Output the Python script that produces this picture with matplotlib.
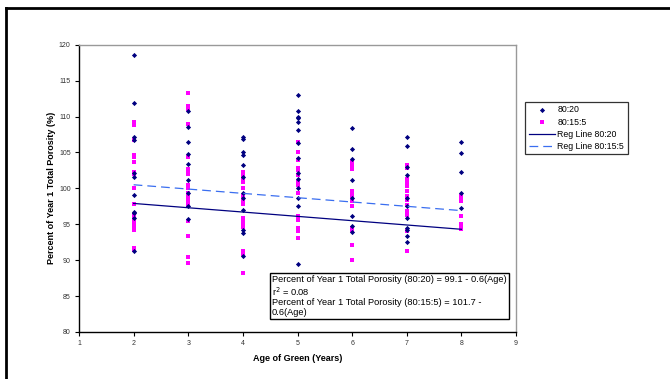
import matplotlib
matplotlib.use("Agg")
import matplotlib.pyplot as plt
from matplotlib.lines import Line2D

# ---- data ----
ages = [2, 3, 4, 5, 6, 7, 8]

vals_8020 = {
    2: [118.6, 111.9, 107.2, 106.8, 102.2, 101.6, 99.1, 96.7, 96.6, 95.9, 91.3],
    3: [110.8, 108.5, 106.5, 104.8, 103.4, 101.2, 99.3, 97.6, 95.7],
    4: [107.1, 106.9, 105.0, 104.7, 103.2, 101.6, 99.3, 98.6, 97.0, 94.2, 93.8, 90.6],
    5: [113.0, 110.7, 109.9, 109.8, 109.2, 108.1, 106.3, 104.2, 102.1, 101.3, 100.0, 98.6, 97.5, 89.5],
    6: [108.4, 105.5, 104.1, 101.1, 98.6, 96.1, 94.7, 93.9],
    7: [107.2, 105.9, 103.0, 101.8, 98.6, 97.5, 95.9, 94.5, 94.2, 93.3, 92.6],
    8: [106.4, 104.9, 102.3, 99.4, 97.2],
}

vals_80155 = {
    2: [109.2, 108.8, 106.8, 104.7, 104.3, 103.7, 102.3, 102.0, 100.0, 97.8, 96.3, 95.9, 95.6, 95.2, 94.9, 94.5, 94.2, 91.7, 91.4],
    3: [113.3, 111.4, 111.0, 108.9, 104.4, 102.7, 102.3, 102.0, 100.5, 100.0, 99.3, 98.9, 98.4, 97.9, 97.5, 95.5, 93.4, 90.4, 89.6],
    4: [102.3, 101.9, 101.3, 100.9, 100.0, 99.0, 98.2, 97.8, 95.9, 95.5, 95.0, 94.6, 91.3, 91.1, 90.8, 88.2],
    5: [106.5, 105.1, 104.0, 102.9, 102.6, 101.9, 100.9, 100.4, 99.4, 96.1, 95.6, 94.5, 94.0, 93.1],
    6: [103.6, 103.3, 103.0, 102.7, 99.7, 99.3, 98.9, 98.2, 97.6, 94.5, 94.2, 92.1, 90.0],
    7: [103.3, 102.8, 101.3, 100.7, 100.5, 100.3, 99.6, 99.0, 98.4, 97.7, 96.8, 96.3, 94.0, 91.3],
    8: [98.9, 98.5, 98.2, 96.2, 95.0, 94.7, 94.3],
}

reg_8020 = (99.1, -0.6)    # intercept, slope
reg_80155 = (101.7, -0.6)

xticks = [1, 2, 3, 4, 5, 6, 7, 8, 9]
yticks = [80, 85, 90, 95, 100, 105, 110, 115, 120]

eq_text = ("Percent of Year 1 Total Porosity (80:20) = 99.1 - 0.6(Age)\n"
           "r$^2$ = 0.08\n"
           "Percent of Year 1 Total Porosity (80:15:5) = 101.7 -\n"
           "0.6(Age)")

# ---- figure ----
W, H = 670, 379
fig = plt.figure(figsize=(W / 100, H / 100), dpi=100)
plt.rcParams['font.family'] = ['Liberation Sans', 'DejaVu Sans']

ax = fig.add_axes([79 / W, 1 - 332 / H, (516 - 79) / W, (332 - 44.7) / H])

x1 = [a for a in ages for _ in vals_8020[a]]
y1 = [v for a in ages for v in vals_8020[a]]
x2 = [a for a in ages for _ in vals_80155[a]]
y2 = [v for a in ages for v in vals_80155[a]]

navy = "#000080"
mag = "#FF00FF"
blue = "#3A6EF0"

ax.scatter(x1, y1, marker="D", s=7, color=navy, zorder=3, label="80:20", linewidths=0)
ax.scatter(x2, y2, marker="s", s=9, color=mag, zorder=2, label="80:15:5", linewidths=0)

xr = [min(ages), max(ages)]
ax.plot(xr, [reg_8020[0] + reg_8020[1] * x for x in xr], color=navy, lw=0.9,
        label="Reg Line 80:20", zorder=4)
ax.plot(xr, [reg_80155[0] + reg_80155[1] * x for x in xr], color=blue, lw=0.9,
        dashes=(7, 4), label="Reg Line 80:15:5", zorder=4)

ax.set_xlim(1, 9)
ax.set_ylim(80, 120)
ax.set_xticks(xticks)
ax.set_yticks(yticks)
ax.tick_params(axis="both", labelsize=5, colors="black", length=3, width=0.8,
               direction="out", pad=3)
for lbl in ax.get_xticklabels() + ax.get_yticklabels():
    lbl.set_color("#333333")

ax.spines["left"].set_color("black")
ax.spines["bottom"].set_color("black")
ax.spines["top"].set_color("#999999")
ax.spines["right"].set_color("#999999")
for s in ax.spines.values():
    s.set_linewidth(1.0)

ax.set_xlabel("Age of Green (Years)", fontsize=6.5, fontweight="bold", labelpad=5)
ax.set_ylabel("Percent of Year 1 Total Porosity (%)", fontsize=6.5,
              fontweight="bold", labelpad=2)

# equation box
ax.text(272 / W, 1 - 275 / H, eq_text, transform=fig.transFigure,
        fontsize=6.7, va="top", ha="left", linespacing=1.1,
        bbox=dict(boxstyle="square,pad=0.22", facecolor="white",
                  edgecolor="black", linewidth=1.0), zorder=10)

# legend
leg = fig.legend(loc="upper left", bbox_to_anchor=(525 / W, 1 - 102 / H),
                 fontsize=6.3, frameon=True, fancybox=False, borderpad=0.4,
                 handlelength=3.0, handletextpad=0.3, labelspacing=0.35,
                 borderaxespad=0, markerscale=1.0)
leg.get_frame().set_edgecolor("black")
leg.get_frame().set_linewidth(0.9)

# outer frame (cropped box)
yt = 1 - 7.8 / H
xl = 6 / W
fig.add_artist(Line2D([xl, xl], [0, yt], transform=fig.transFigure,
                      color="black", lw=2.0, solid_capstyle="projecting"))
fig.add_artist(Line2D([xl, 1], [yt, yt], transform=fig.transFigure,
                      color="black", lw=2.0, solid_capstyle="projecting"))

fig.savefig("out.png", dpi=100, facecolor="white")
